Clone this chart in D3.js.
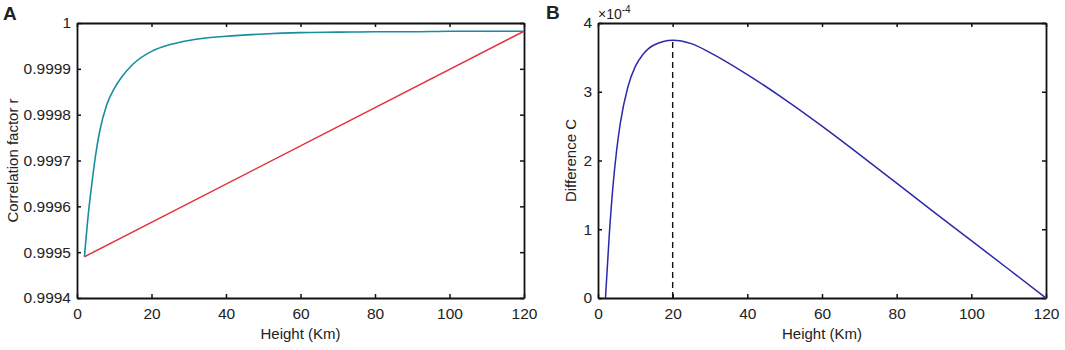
<!DOCTYPE html>
<html>
<head>
<meta charset="utf-8">
<script src="https://cdn.jsdelivr.net/npm/d3@7"></script>
<style>
  body { margin: 0; background: #fff; }
  text { font-family: "Liberation Sans", Arial, sans-serif; fill: #222; }
</style>
</head>
<body>
<script>
const width = 1065, height = 350;

// heights (km) shared by the curves
const heights = [2, 3, 4, 5, 6, 8, 10, 12, 15, 20, 25, 30, 40, 50, 60, 70, 80, 90, 100, 110, 120];
// panel A: teal curve
const corrCurve = [0.99949, 0.99958, 0.99965, 0.999712, 0.99976, 0.999822, 0.999857, 0.999882, 0.99991, 0.999938,
    0.999953, 0.999962, 0.999971, 0.999976, 0.999979, 0.99998, 0.999981, 0.999981, 0.999982, 0.999982, 0.999982];
// panel A: red straight line
const lineHeights = [2, 120];
const corrLine = [0.99949, 0.999982];
// panel B: difference C (units of 1e-4)
const diffC = [0, 0.9, 1.62, 2.15, 2.55, 3.07, 3.37, 3.54, 3.68, 3.75, 3.70, 3.57, 3.25, 2.89, 2.50, 2.09, 1.67, 1.25, 0.835, 0.418, 0];
const peakHeight = 20, peakValue = 3.75;

const xTicks = [0, 20, 40, 60, 80, 100, 120];
const yTicksA = [0.9994, 0.9995, 0.9996, 0.9997, 0.9998, 0.9999, 1];
const yTickLabelsA = ["0.9994", "0.9995", "0.9996", "0.9997", "0.9998", "0.9999", "1"];
const yTicksB = [0, 1, 2, 3, 4];

const svg = d3.select("body").append("svg")
    .attr("width", width)
    .attr("height", height);

// boxed frame with inward ticks on all four sides, returns scales
function frame(left, right, top, bottom, yDomain, yTicks, yFmt) {
    const x = d3.scaleLinear().domain([0, 120]).range([left, right]);
    const y = d3.scaleLinear().domain(yDomain).range([bottom, top]);
    const g = svg.append("g");

    g.append("g").attr("transform", `translate(0,${bottom})`)
        .call(d3.axisBottom(x).tickValues(xTicks).tickSize(-4).tickPadding(10).tickSizeOuter(0));
    g.append("g").attr("transform", `translate(0,${top})`)
        .call(d3.axisTop(x).tickValues(xTicks).tickSize(-4).tickFormat("").tickSizeOuter(0));
    g.append("g").attr("transform", `translate(${left},0)`)
        .call(d3.axisLeft(y).tickValues(yTicks).tickSize(-4).tickPadding(6).tickFormat(yFmt).tickSizeOuter(0));
    g.append("g").attr("transform", `translate(${right},0)`)
        .call(d3.axisRight(y).tickValues(yTicks).tickSize(-4).tickFormat("").tickSizeOuter(0));

    g.selectAll(".domain").attr("stroke", "#111").attr("stroke-width", 1.8);
    g.selectAll(".tick line").attr("stroke", "#111").attr("stroke-width", 1.5);
    g.selectAll(".tick text").attr("font-size", 15.5).attr("fill", "#222")
        .style("font-family", '"Liberation Sans", Arial, sans-serif');
    return { x, y };
}

// ---------- panel A ----------
const A = frame(77, 524, 23, 298, [0.9994, 1], yTicksA, (d, i) => yTickLabelsA[i]);

svg.append("path")
    .datum(heights.map((h, i) => [h, corrCurve[i]]))
    .attr("fill", "none")
    .attr("stroke", "#168ea0")
    .attr("stroke-width", 1.6)
    .attr("d", d3.line().x(d => A.x(d[0])).y(d => A.y(d[1])).curve(d3.curveMonotoneX));

svg.append("path")
    .datum(lineHeights.map((h, i) => [h, corrLine[i]]))
    .attr("fill", "none")
    .attr("stroke", "#e0323c")
    .attr("stroke-width", 1.5)
    .attr("d", d3.line().x(d => A.x(d[0])).y(d => A.y(d[1])));

svg.append("text").attr("x", 300.5).attr("y", 339)
    .attr("text-anchor", "middle").attr("font-size", 15).text("Height (Km)");
svg.append("text")
    .attr("transform", "translate(18,160.5) rotate(-90)")
    .attr("text-anchor", "middle").attr("font-size", 15).text("Correlation factor r");
svg.append("text").attr("x", 3).attr("y", 20)
    .attr("font-size", 19).attr("font-weight", "bold").attr("fill", "#111").text("A");

// ---------- panel B ----------
const B = frame(598, 1046, 23, 298, [0, 4], yTicksB, d3.format("d"));

svg.append("line")
    .attr("x1", B.x(peakHeight)).attr("x2", B.x(peakHeight))
    .attr("y1", B.y(0)).attr("y2", B.y(peakValue))
    .attr("stroke", "#111").attr("stroke-width", 1.4)
    .attr("stroke-dasharray", "6,4");

svg.append("path")
    .datum(heights.map((h, i) => [h, diffC[i]]))
    .attr("fill", "none")
    .attr("stroke", "#2a2aaa")
    .attr("stroke-width", 1.5)
    .attr("d", d3.line().x(d => B.x(d[0])).y(d => B.y(d[1])).curve(d3.curveMonotoneX));

svg.append("text").attr("x", 822).attr("y", 339)
    .attr("text-anchor", "middle").attr("font-size", 15).text("Height (Km)");
svg.append("text")
    .attr("transform", "translate(576,160.5) rotate(-90)")
    .attr("text-anchor", "middle").attr("font-size", 15).text("Difference C");
svg.append("text").attr("x", 546).attr("y", 19)
    .attr("font-size", 19).attr("font-weight", "bold").attr("fill", "#111").text("B");

const exp = svg.append("text").attr("x", 598).attr("y", 19).attr("font-size", 14);
exp.append("tspan").text("\u00d710");
exp.append("tspan").attr("font-size", 10).attr("dy", -6).text("-4");
</script>
</body>
</html>
